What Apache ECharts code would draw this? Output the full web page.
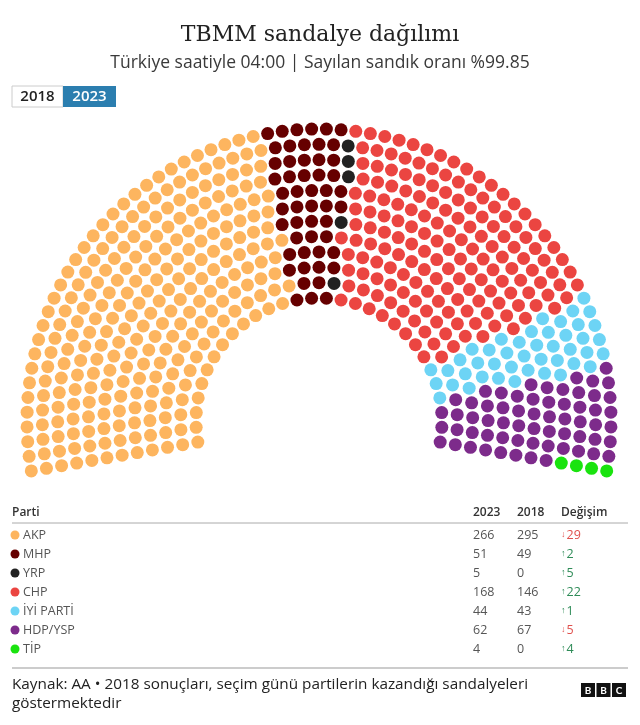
<!DOCTYPE html>
<html>
<head>
<meta charset="utf-8">
<script src="https://cdn.jsdelivr.net/npm/echarts@6/dist/echarts.min.js"></script>
<style>
html,body{margin:0;padding:0;background:#fff;}
#chart{width:640px;height:725px;}
</style>
</head>
<body>
<div id="chart"></div>
<script>
// ---- data ----
const parties = ['AKP', 'MHP', 'YRP', 'CHP', 'İYİ PARTİ', 'HDP/YSP', 'TİP'];
const seats2023 = [266, 51, 5, 168, 44, 62, 4];
const seats2018 = [295, 49, 0, 146, 43, 67, 0];
const partyColors = ['#fdb55f', '#660000', '#222222', '#eb4541', '#6dd4f5', '#7d2b8b', '#1ae30f'];
const tableHeaders = ['Parti', '2023', '2018', 'Değişim'];
const yearButtons = ['2018', '2023'];

// ---- layout (styling only) ----
const FONT = 'Lato, "Noto Sans", sans-serif';
const FONT2 = '"Open Sans", "Noto Sans", sans-serif';
const ROWS = 12, R_IN = 123, R_OUT = 292;
const ANG_START = 189.85, ANG_END = -9.85;

const total = seats2023.reduce((a, b) => a + b, 0);
const radii = Array.from({length: ROWS}, (_, i) => R_IN + i * (R_OUT - R_IN) / (ROWS - 1));
const sumR = radii.reduce((a, b) => a + b, 0);
let counts = radii.map(r => Math.round(total * r / sumR));
let diff = total - counts.reduce((a, b) => a + b, 0);
let k = ROWS - 1;
while (diff !== 0) { counts[k] += Math.sign(diff); diff -= Math.sign(diff); k = (k - 1 + ROWS) % ROWS; }

const seats = [];
radii.forEach((r, i) => {
  const n = counts[i];
  for (let j = 0; j < n; j++) {
    const a = ANG_START + (ANG_END - ANG_START) * j / (n - 1);
    seats.push({r: r, a: a});
  }
});
seats.sort((p, q) => {
  const d = q.a - p.a;
  if (Math.abs(d) > 1e-6) return d;
  return p.r - q.r;
});

const series = [];
let idx = 0;
parties.forEach((p, pi) => {
  const pts = seats.slice(idx, idx + seats2023[pi]).map(s => [s.r, (s.a + 360) % 360]);
  idx += seats2023[pi];
  series.push({
    name: p, type: 'scatter', coordinateSystem: 'polar',
    symbol: 'circle', symbolSize: 13, data: pts,
    itemStyle: {color: partyColors[pi], opacity: 1}, silent: true, animation: false
  });
});

// ---- table graphics ----
const graphic = [];
const colX = [12, 473, 517, 561];
const headerY = 513;
tableHeaders.forEach((h, i) => {
  graphic.push({type: 'text', x: colX[i], y: headerY,
    style: {text: h, font: '600 12px ' + FONT2, fill: '#333', verticalAlign: 'middle'}});
});
graphic.push({type: 'line', shape: {x1: 12, y1: 523, x2: 628, y2: 523}, style: {stroke: '#aaa', lineWidth: 1}});
parties.forEach((p, i) => {
  const y = 535 + i * 19;
  const base = {font: '12.5px ' + FONT2, fill: '#555', verticalAlign: 'middle'};
  graphic.push({type: 'circle', shape: {cx: 15, cy: y, r: 4.5}, style: {fill: partyColors[i]}});
  graphic.push({type: 'text', x: 23, y: y, style: Object.assign({text: p}, base)});
  graphic.push({type: 'text', x: colX[1], y: y, style: Object.assign({text: String(seats2023[i])}, base)});
  graphic.push({type: 'text', x: colX[2], y: y, style: Object.assign({text: String(seats2018[i])}, base)});
  const ch = seats2023[i] - seats2018[i];
  const col = ch < 0 ? '#e0504d' : '#2e8b57';
  graphic.push({type: 'text', x: colX[3], y: y,
    style: {text: '{a|' + (ch < 0 ? '↓' : '↑') + '}' + Math.abs(ch), font: '12.5px ' + FONT2, fill: col, verticalAlign: 'middle',
      rich: {a: {fontSize: 9, fontWeight: 'bold', fill: col, padding: [0, 1, 0, 0]}}}});
});

// year toggle
graphic.push({type: 'rect', shape: {x: 12, y: 86, width: 51, height: 21}, style: {fill: '#fff', stroke: '#ccc', lineWidth: 1}});
graphic.push({type: 'rect', shape: {x: 63, y: 86, width: 53, height: 21}, style: {fill: '#2b7eaf'}});
graphic.push({type: 'text', x: 37.5, y: 97, style: {text: yearButtons[0], font: '600 15px ' + FONT2, fill: '#222', align: 'center', verticalAlign: 'middle'}});
graphic.push({type: 'text', x: 89.5, y: 97, style: {text: yearButtons[1], font: '600 15px ' + FONT2, fill: '#fff', align: 'center', verticalAlign: 'middle'}});

// footer
graphic.push({type: 'line', shape: {x1: 12, y1: 668, x2: 628, y2: 668}, style: {stroke: '#999', lineWidth: 1}});
graphic.push({type: 'text', left: 12, top: 675, style: {
  text: 'Kaynak: AA • 2018 sonuçları, seçim günü partilerin kazandığı sandalyeleri\ngöstermektedir',
  font: '15.3px ' + FONT2, fill: '#222', lineHeight: 19}});
['B', 'B', 'C'].forEach((c, i) => {
  graphic.push({type: 'rect', shape: {x: 581 + i * 15.5, y: 683, width: 14, height: 14}, style: {fill: '#111'}});
  graphic.push({type: 'text', x: 588 + i * 15.5, y: 690.5, style: {text: c, font: 'bold 10px ' + FONT, fill: '#fff', align: 'center', verticalAlign: 'middle'}});
});

const chart = echarts.init(document.getElementById('chart'), null, {renderer: 'canvas'});
chart.setOption({
  animation: false,
  title: {
    text: 'TBMM sandalye dağılımı',
    subtext: 'Türkiye saatiyle 04:00 | Sayılan sandık oranı %99.85',
    left: 'center', top: 19, itemGap: 8,
    textStyle: {fontFamily: '"DejaVu Serif", serif', fontSize: 22, fontWeight: 'normal', color: '#222'},
    subtextStyle: {fontFamily: FONT2, fontSize: 17.5, color: '#3a3a3a'}
  },
  polar: {center: [319, 421], radius: R_OUT},
  angleAxis: {type: 'value', min: 0, max: 360, startAngle: 0, clockwise: false, show: false,
    axisLine: {show: false}, axisTick: {show: false}, axisLabel: {show: false}, splitLine: {show: false}},
  radiusAxis: {type: 'value', min: 0, max: R_OUT, show: false,
    axisLine: {show: false}, axisTick: {show: false}, axisLabel: {show: false}, splitLine: {show: false}},
  series: series,
  graphic: graphic
});
</script>
</body>
</html>
